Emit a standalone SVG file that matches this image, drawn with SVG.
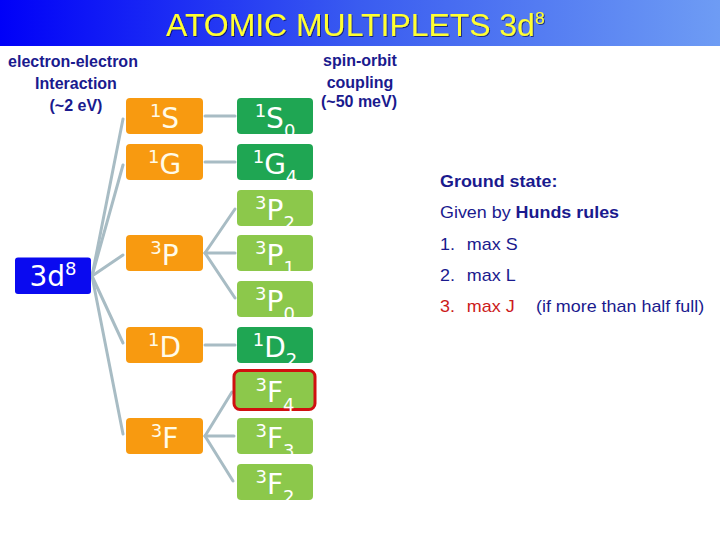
<svg xmlns="http://www.w3.org/2000/svg" width="720" height="540" viewBox="0 0 720 540">
<defs>
<linearGradient id="bar" x1="0" y1="0" x2="1" y2="0">
<stop offset="0" stop-color="#0000f8"/>
<stop offset="0.5" stop-color="#3a5cf0"/>
<stop offset="1" stop-color="#6e9cf4"/>
</linearGradient>
<filter id="sh" x="-5%" y="-20%" width="110%" height="140%">
<feDropShadow dx="1" dy="1" stdDeviation="0.6" flood-color="#000030" flood-opacity="0.6"/>
</filter>
<style>
.lbl{font-family:"Liberation Sans",Arial,sans-serif;font-weight:bold;font-size:16px;fill:#1a1a8e;text-anchor:middle}
.txt{font-family:"Liberation Sans",Arial,sans-serif;font-size:16px;fill:#1a1a8e}
.b{font-weight:bold}
.red{fill:#cc1a1a}
.nl{font-family:"DejaVu Sans",Verdana,sans-serif;font-size:28px;text-anchor:middle}
.sm{font-size:18px}
.orange rect{fill:#f89a10}
.orange text{fill:#fffbe8}
.dark rect{fill:#1fa653}
.light rect{fill:#8cc84b}
.dark text,.light text{fill:#ffffff}
.conn line{stroke:#a8bcc4;stroke-width:3;stroke-linecap:round}
</style>
</defs>
<rect x="0" y="0" width="720" height="46" fill="url(#bar)"/>
<g id="title" filter="url(#sh)">
<text transform="translate(166,36) scale(1.03,1)" font-family="Liberation Sans,Arial,sans-serif" font-size="31" fill="#ffff33">ATOMIC MULTIPLETS 3d<tspan font-size="17" dy="-12">8</tspan></text>
</g>
<g id="labels">
<text class="lbl" x="73" y="67">electron-electron</text>
<text class="lbl" x="76" y="89">Interaction</text>
<text class="lbl" x="76" y="111">(~2 eV)</text>
<text class="lbl" x="360" y="66">spin-orbit</text>
<text class="lbl" x="360" y="88">coupling</text>
<text class="lbl" x="359" y="107">(~50 meV)</text>
</g>
<g id="connectors" class="conn">
<line x1="92" y1="276" x2="123" y2="119"/>
<line x1="92" y1="276" x2="123" y2="165"/>
<line x1="92" y1="276" x2="123" y2="255"/>
<line x1="92" y1="276" x2="123" y2="343"/>
<line x1="92" y1="276" x2="123" y2="434"/>
<line x1="205" y1="116" x2="235" y2="116"/>
<line x1="205" y1="162" x2="235" y2="162"/>
<line x1="205" y1="253" x2="235" y2="209"/>
<line x1="205" y1="253" x2="235" y2="253"/>
<line x1="205" y1="253" x2="235" y2="298"/>
<line x1="205" y1="345" x2="235" y2="345"/>
<line x1="205" y1="436" x2="232" y2="392"/>
<line x1="205" y1="436" x2="234" y2="436"/>
<line x1="205" y1="436" x2="233" y2="481"/>
</g>
<g id="n3d8">
<rect x="15" y="257.5" width="76" height="36.5" rx="3" fill="#0a0af0"/>
<text class="nl" x="53" y="286" fill="#ffffff">3d<tspan class="sm" dy="-11">8</tspan></text>
</g>
<g id="o1S" class="orange"><rect x="126" y="98" width="77" height="36" rx="4"/><text class="nl" x="164.5" y="128"><tspan class="sm" dy="-11">1</tspan><tspan dy="11">S</tspan></text></g>
<g id="o1G" class="orange"><rect x="126" y="144" width="77" height="36" rx="4"/><text class="nl" x="164.5" y="174"><tspan class="sm" dy="-11">1</tspan><tspan dy="11">G</tspan></text></g>
<g id="o3P" class="orange"><rect x="126" y="235" width="77" height="36" rx="4"/><text class="nl" x="164.5" y="265"><tspan class="sm" dy="-11">3</tspan><tspan dy="11">P</tspan></text></g>
<g id="o1D" class="orange"><rect x="126" y="327" width="77" height="36" rx="4"/><text class="nl" x="164.5" y="357"><tspan class="sm" dy="-11">1</tspan><tspan dy="11">D</tspan></text></g>
<g id="o3F" class="orange"><rect x="126" y="418" width="77" height="36" rx="4"/><text class="nl" x="164.5" y="448"><tspan class="sm" dy="-11">3</tspan><tspan dy="11">F</tspan></text></g>
<g id="g1S0" class="dark"><rect x="237" y="98" width="76" height="36" rx="4"/><text class="nl" x="275" y="128"><tspan class="sm" dy="-11">1</tspan><tspan dy="11">S</tspan><tspan class="sm" dy="9">0</tspan></text></g>
<g id="g1G4" class="dark"><rect x="237" y="144" width="76" height="36" rx="4"/><text class="nl" x="275" y="174"><tspan class="sm" dy="-11">1</tspan><tspan dy="11">G</tspan><tspan class="sm" dy="9">4</tspan></text></g>
<g id="g3P2" class="light"><rect x="237" y="190" width="76" height="36" rx="4"/><text class="nl" x="275" y="220"><tspan class="sm" dy="-11">3</tspan><tspan dy="11">P</tspan><tspan class="sm" dy="9">2</tspan></text></g>
<g id="g3P1" class="light"><rect x="237" y="235" width="76" height="36" rx="4"/><text class="nl" x="275" y="265"><tspan class="sm" dy="-11">3</tspan><tspan dy="11">P</tspan><tspan class="sm" dy="9">1</tspan></text></g>
<g id="g3P0" class="light"><rect x="237" y="281" width="76" height="36" rx="4"/><text class="nl" x="275" y="311"><tspan class="sm" dy="-11">3</tspan><tspan dy="11">P</tspan><tspan class="sm" dy="9">0</tspan></text></g>
<g id="g1D2" class="dark"><rect x="237" y="327" width="76" height="36" rx="4"/><text class="nl" x="275" y="357"><tspan class="sm" dy="-11">1</tspan><tspan dy="11">D</tspan><tspan class="sm" dy="9">2</tspan></text></g>
<g id="g3F4" class="light"><rect x="234" y="370.5" width="81" height="39" rx="6" stroke="#d01010" stroke-width="3"/><text class="nl" x="275" y="402"><tspan class="sm" dy="-11">3</tspan><tspan dy="11">F</tspan><tspan class="sm" dy="9">4</tspan></text></g>
<g id="g3F3" class="light"><rect x="237" y="418" width="76" height="36" rx="4"/><text class="nl" x="275" y="448"><tspan class="sm" dy="-11">3</tspan><tspan dy="11">F</tspan><tspan class="sm" dy="9">3</tspan></text></g>
<g id="g3F2" class="light"><rect x="237" y="464" width="76" height="36" rx="4"/><text class="nl" x="275" y="494"><tspan class="sm" dy="-11">3</tspan><tspan dy="11">F</tspan><tspan class="sm" dy="9">2</tspan></text></g>
<g id="rules" transform="translate(440,0) scale(1.12,1)">
<text class="txt b" x="0" y="187">Ground state:</text>
<text class="txt" x="0" y="218">Given by <tspan class="b">Hunds rules</tspan></text>
<text class="txt" x="0" y="250">1.</text><text class="txt" x="24" y="250">max S</text>
<text class="txt" x="0" y="281">2.</text><text class="txt" x="24" y="281">max L</text>
<text class="txt red" x="0" y="312">3.</text><text class="txt red" x="24" y="312">max J</text>
<text class="txt" x="85.7" y="312">(if more than half full)</text>
</g>
</svg>
